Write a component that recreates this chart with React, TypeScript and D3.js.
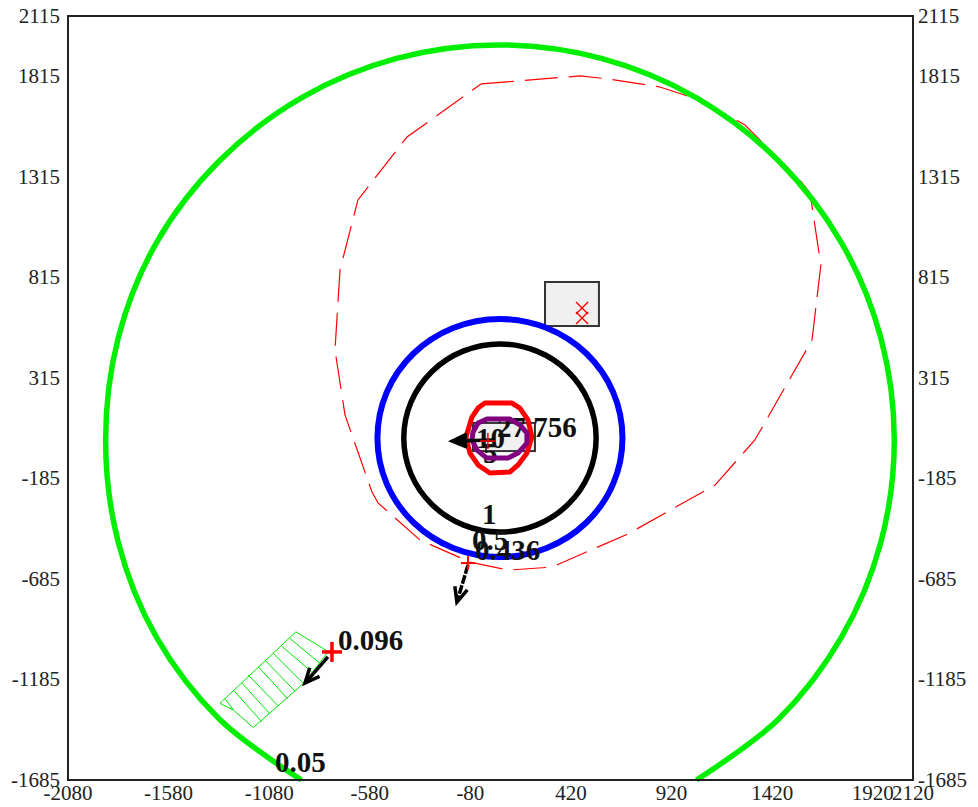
import React from "react";
import * as d3 from "d3";

type P = [number, number];

const xTicks = [-2080, -1580, -1080, -580, -80, 420, 920, 1420, 1920, 2120];
const yTicks = [2115, 1815, 1315, 815, 315, -185, -685, -1185, -1685];

const greenContour: P[] = [
  [-920, -1685], [-1327, -1383], [-1640, -976], [-1830, -503], [-1893, 6], [-1830, 515],
  [-1640, 988], [-1327, 1395], [-920, 1708], [-447, 1904], [62, 1971], [571, 1904],
  [1044, 1708], [1451, 1395], [1764, 988], [1960, 515], [2027, 6], [1960, -503],
  [1764, -976], [1451, -1383], [1044, -1685],
];
const blueContour: P[] = [
  [676, 16], [630, 243], [498, 435], [300, 563], [67, 608], [-166, 563], [-364, 435], [-496, 243],
  [-542, 16], [-496, -211], [-364, -403], [-166, -531], [67, -576], [300, -531], [498, -403], [630, -211],
];
const blackContour: P[] = [
  [545, 16], [509, 195], [405, 347], [250, 448], [67, 484], [-116, 448], [-271, 347], [-375, 195],
  [-411, 16], [-375, -163], [-271, -315], [-116, -416], [67, -452], [250, -416], [405, -315], [509, -163],
];
const redContour: P[] = [
  [-8, 190], [127, 190], [166, 165], [206, 106], [226, 21], [201, -59], [157, -118], [117, -153],
  [17, -158], [-42, -118], [-82, -59], [-102, 21], [-72, 120], [-42, 165],
];
const purpleContour: P[] = [
  [2, 110], [117, 110], [166, 81], [201, 41], [201, -9], [157, -59], [107, -84], [2, -84],
  [-47, -44], [-72, 6], [-67, 46], [-42, 91],
];
const dashedTrack: P[] = [
  [-27, 1777], [465, 1817], [604, 1802], [862, 1762], [1061, 1697], [1285, 1573], [1558, 1299], [1608, 1235],
  [1662, 876], [1618, 503], [1334, 6], [1136, -218], [703, -461], [325, -626], [107, -641], [-82, -601],
  [-331, -491], [-539, -307], [-569, -253], [-703, 130], [-753, 454], [-728, 852], [-639, 1200], [-395, 1513], [-27, 1777],
];
const hatchOutline: P[] = [
  [-947, -948], [-786, -1047], [-910, -1205], [-1159, -1424], [-1258, -1337], [-1325, -1304], [-947, -948],
];
const hatchLines: [P, P][] = [
  [[-977, -981], [-827, -1105]],
  [[-1018, -1019], [-869, -1147]],
  [[-1059, -1056], [-910, -1205]],
  [[-1101, -1089], [-952, -1243]],
  [[-1134, -1122], [-990, -1279]],
  [[-1184, -1163], [-1035, -1317]],
  [[-1217, -1201], [-1076, -1357]],
  [[-1258, -1238], [-1117, -1395]],
  [[-1300, -1279], [-1258, -1337]],
];
const boxes: [number, number, number, number][] = [
  [291, 792, 559, 573],
  [-67, 91, 241, -49],
];
const crossPoints: P[] = [[475, 663], [475, 613]];
const plusPoints: { p: P; size: number; width: number }[] = [
  { p: [-92, -606], size: 7, width: 2 },
  { p: [-768, -1048], size: 10, width: 3.5 },
  { p: [7, 1], size: 8, width: 1.5 },
];
const arrows: { from: P; to: P }[] = [
  { from: [-92, -616], to: [-147, -800] },
  { from: [-788, -1073], to: [-902, -1203] },
  { from: [42, 6], to: [-170, 1] },
];
const labels: { text: string; p: P }[] = [
  { text: "5", p: [-17, -108] },
  { text: "10", p: [-52, -34] },
  { text: "27.756", p: [52, 21] },
  { text: "1", p: [-22, -412] },
  { text: "0.5", p: [-72, -541] },
  { text: "0.436", p: [-57, -591] },
  { text: "0.096", p: [-738, -1038] },
  { text: "0.05", p: [-1051, -1645] },
];

const SERIF = "'Liberation Serif', 'Times New Roman', serif";

export default function App() {
  const x = d3.scaleLinear().domain([-2080, 2120]).range([68, 913]);
  const y = d3.scaleLinear().domain([2115, -1685]).range([16, 780]);
  const open = d3.line<P>().x((d) => x(d[0])).y((d) => y(d[1])).curve(d3.curveCatmullRom);
  const ring = d3.line<P>().x((d) => x(d[0])).y((d) => y(d[1])).curve(d3.curveCatmullRomClosed);
  const poly = d3.line<P>().x((d) => x(d[0])).y((d) => y(d[1]));
  const arrowHead = (a: P, b: P) => {
    const x1 = x(a[0]), y1 = y(a[1]), x2 = x(b[0]), y2 = y(b[1]);
    const ang = Math.atan2(y2 - y1, x2 - x1);
    const len = 16;
    const s = 0.42;
    const p = (t: number): P => [x2 - len * Math.cos(ang + t), y2 - len * Math.sin(ang + t)];
    return d3.line()([p(s), [x2, y2], p(-s)]) as string;
  };
  return (
    <svg
      width={978}
      height={807}
      style={{ position: "absolute", left: 0, top: 0, display: "block", background: "#fff" }}
    >
      {boxes.map((b, i) => (
        <rect
          key={i}
          x={x(b[0])}
          y={y(b[1])}
          width={x(b[2]) - x(b[0])}
          height={y(b[3]) - y(b[1])}
          fill="#f0f0f0"
          stroke="#333"
          strokeWidth={2}
        />
      ))}
      <path d={poly(dashedTrack) as string} fill="none" stroke="#ff0000" strokeWidth={1.2} strokeDasharray="33 11" />
      <g fill="none" stroke="#00e600" strokeWidth={1}>
        <path d={poly(hatchOutline) as string} />
        {hatchLines.map((l, i) => (
          <path key={i} d={poly(l) as string} />
        ))}
      </g>
      <path d={open(greenContour) as string} fill="none" stroke="#00ee00" strokeWidth={5.5} />
      <path d={ring(blueContour) as string} fill="none" stroke="#0000ff" strokeWidth={6} />
      <path d={ring(blackContour) as string} fill="none" stroke="#000" strokeWidth={5.5} />
      {crossPoints.map((p, i) => (
        <g key={i} stroke="#ff0000" strokeWidth={1.3}>
          <line x1={x(p[0]) - 6} x2={x(p[0]) + 6} y1={y(p[1]) - 6} y2={y(p[1]) + 6} />
          <line x1={x(p[0]) - 6} x2={x(p[0]) + 6} y1={y(p[1]) + 6} y2={y(p[1]) - 6} />
        </g>
      ))}
      {labels.map((l) => (
        <text
          key={l.text}
          x={x(l.p[0])}
          y={y(l.p[1])}
          fontFamily={SERIF}
          fontWeight="bold"
          fontSize={29}
          fill="#111"
        >
          {l.text}
        </text>
      ))}
      <path d={poly(redContour) + "Z"} fill="none" stroke="#ff0000" strokeWidth={5} strokeLinejoin="round" />
      <path d={poly(purpleContour) + "Z"} fill="none" stroke="#800080" strokeWidth={5} strokeLinejoin="round" />
      {arrows.map((a, i) => (
        <g key={i} fill="none" stroke="#000" strokeWidth={3.5}>
          <path d={poly([a.from, a.to]) as string} strokeDasharray={i === 0 ? "9 1.5" : undefined} />
          <path d={arrowHead(a.from, a.to)} fill={i === 2 ? "#000" : "none"} />
        </g>
      ))}
      {plusPoints.map((m, i) => (
        <g key={i} stroke="#ff0000" strokeWidth={m.width}>
          <line x1={x(m.p[0]) - m.size} x2={x(m.p[0]) + m.size} y1={y(m.p[1])} y2={y(m.p[1])} />
          <line x1={x(m.p[0])} x2={x(m.p[0])} y1={y(m.p[1]) - m.size} y2={y(m.p[1]) + m.size} />
        </g>
      ))}
      <rect x={68} y={16} width={845} height={764} fill="none" stroke="#222" strokeWidth={2} />
      <g fontFamily={SERIF} fontSize={21} fill="#222">
        {xTicks.map((t) => (
          <text key={t} x={x(t)} y={800} textAnchor="middle">
            {t}
          </text>
        ))}
        {yTicks.map((t) => (
          <g key={t}>
            <text x={60} y={y(t) + 7} textAnchor="end">
              {t}
            </text>
            <text x={918} y={y(t) + 7} textAnchor="start">
              {t}
            </text>
          </g>
        ))}
      </g>
    </svg>
  );
}
